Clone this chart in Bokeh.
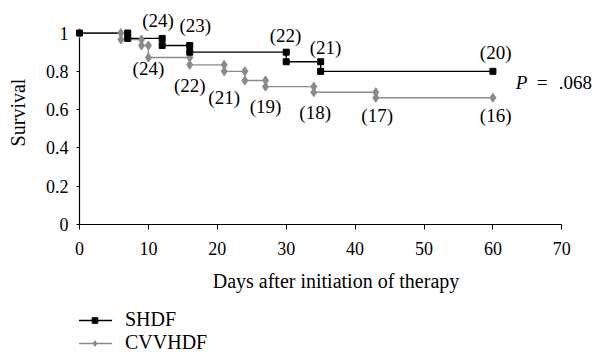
from bokeh.plotting import figure
from bokeh.layouts import column
from bokeh.models import (Range1d, FixedTicker, CustomJSTickFormatter, Legend, LegendItem)
from bokeh.core.properties import value
from bokeh.embed import file_html
from bokeh.resources import INLINE

# ---- data ----
shdf_days = [0, 7, 12, 16, 30, 35, 60]
shdf_surv = [1.0, 0.972, 0.935, 0.90, 0.85, 0.80, 0.80]

cvv_days = [0, 6, 9, 10, 16, 21, 24, 27, 34, 43, 60]
cvv_surv = [1.0, 0.966, 0.935, 0.872, 0.834, 0.80, 0.752, 0.72, 0.691, 0.662, 0.662]

shdf_lbl_text = ["(24)", "(23)", "(22)", "(21)", "(20)"]
shdf_lbl_x = [11.4, 16.8, 29.9, 35.7, 60.4]
shdf_lbl_y = [1.065, 1.04, 0.987, 0.926, 0.90]

cvv_lbl_text = ["(24)", "(22)", "(21)", "(19)", "(18)", "(17)", "(16)"]
cvv_lbl_x = [10.0, 16.0, 21.0, 27.0, 34.2, 43.2, 60.4]
cvv_lbl_y = [0.813, 0.726, 0.665, 0.616, 0.586, 0.569, 0.569]

x_ticks = [0, 10, 20, 30, 40, 50, 60, 70]
y_ticks = [0, 0.2, 0.4, 0.6, 0.8, 1]

p_text_x = 63.3
p_text_y = 0.743

FONT = "Liberation Serif"
GRAY = "#8a8a8a"


def step_points(days, surv):
    xs, ys = [days[0]], [surv[0]]
    for i in range(1, len(days)):
        xs.append(days[i]); ys.append(surv[i - 1])
        if surv[i] != surv[i - 1]:
            xs.append(days[i]); ys.append(surv[i])
    return xs, ys


sx, sy = step_points(shdf_days, shdf_surv)
cx, cy = step_points(cvv_days, cvv_surv)

p = figure(width=592, height=296, output_backend="svg", toolbar_location=None,
           x_range=Range1d(0, 74.45), y_range=Range1d(0, 1.17),
           min_border_left=79, min_border_top=0, min_border_right=0, min_border_bottom=72)
p.outline_line_color = None
p.grid.visible = False

p.line(cx, cy, line_color=GRAY, line_width=1.4)
p.scatter(cx, cy, marker="diamond", size=9, fill_color=GRAY, line_color=GRAY, level="overlay")
p.line(sx, sy, line_color="black", line_width=1.3)
p.scatter(sx, sy, marker="square", size=6, fill_color="black", line_color="black", level="overlay")

p.text(shdf_lbl_x, shdf_lbl_y, text=shdf_lbl_text, text_font=value(FONT), text_font_size="19px",
       text_align="center", text_baseline="middle", text_color="black")
p.text(cvv_lbl_x, cvv_lbl_y, text=cvv_lbl_text, text_font=value(FONT), text_font_size="19px",
       text_align="center", text_baseline="middle", text_color="black")
p.text([p_text_x], [p_text_y], text=["P"], text_font=value(FONT), text_font_size="19px",
       text_font_style="italic", text_align="left", text_baseline="middle", level="overlay")
p.text([p_text_x], [p_text_y], text=["="], x_offset=21, text_font=value(FONT),
       text_font_size="19px", text_align="left", text_baseline="middle", level="overlay")
p.text([p_text_x], [p_text_y], text=[".068"], x_offset=43, text_font=value(FONT),
       text_font_size="19px", text_align="left", text_baseline="middle", level="overlay")

# axes
xa = p.xaxis[0]
xa.ticker = FixedTicker(ticks=x_ticks)
xa.bounds = (0, 70)
xa.axis_label = "Days after initiation of therapy"
ya = p.yaxis[0]
ya.ticker = FixedTicker(ticks=y_ticks)
ya.bounds = (0, 1)
ya.formatter = CustomJSTickFormatter(code="return tick.toString()")
ya.axis_label = "Survival"
for ax in (xa, ya):
    ax.axis_line_color = "black"
    ax.axis_line_width = 1.2
    ax.major_tick_line_color = "black"
    ax.minor_tick_line_color = None
    ax.major_tick_in = 0
    ax.major_label_text_font = FONT
    ax.major_label_text_font_size = "18px"
    ax.major_label_text_color = "black"
    ax.axis_label_text_font = FONT
    ax.axis_label_text_font_size = "20px"
    ax.axis_label_text_font_style = "normal"
    ax.axis_label_text_color = "black"
xa.major_tick_out = 5
xa.major_label_standoff = 12
xa.axis_label_standoff = 12
ya.major_tick_out = 3
ya.major_label_standoff = 8
ya.axis_label_standoff = 14

# legend in a small strip below the chart (same series, drawn outside its view)
p2 = figure(width=592, height=64, output_backend="svg", toolbar_location=None,
            x_range=Range1d(-200, -199), y_range=Range1d(-200, -199),
            min_border_left=0, min_border_right=0, min_border_top=0, min_border_bottom=0)
p2.axis.visible = False
p2.grid.visible = False
p2.outline_line_color = None
l1 = p2.line(sx, sy, line_color="black", line_width=1.3)
m1 = p2.scatter(sx, sy, marker="square", size=6, fill_color="black", line_color="black")
l2 = p2.line(cx, cy, line_color=GRAY, line_width=1.4)
m2 = p2.scatter(cx, cy, marker="diamond", size=9, fill_color=GRAY, line_color=GRAY)

legend = Legend(items=[LegendItem(label="SHDF", renderers=[l1, m1]),
                       LegendItem(label="CVVHDF", renderers=[l2, m2])],
                location=(-2, 6), orientation="vertical",
                label_text_font=FONT, label_text_font_size="20px", label_text_color="black",
                glyph_width=35, glyph_height=14, label_height=21, spacing=0,
                label_standoff=13, padding=0, margin=0, border_line_color=None,
                background_fill_alpha=0)
p2.add_layout(legend)

open("out.html", "w").write(file_html(column(p, p2, spacing=0), INLINE))
